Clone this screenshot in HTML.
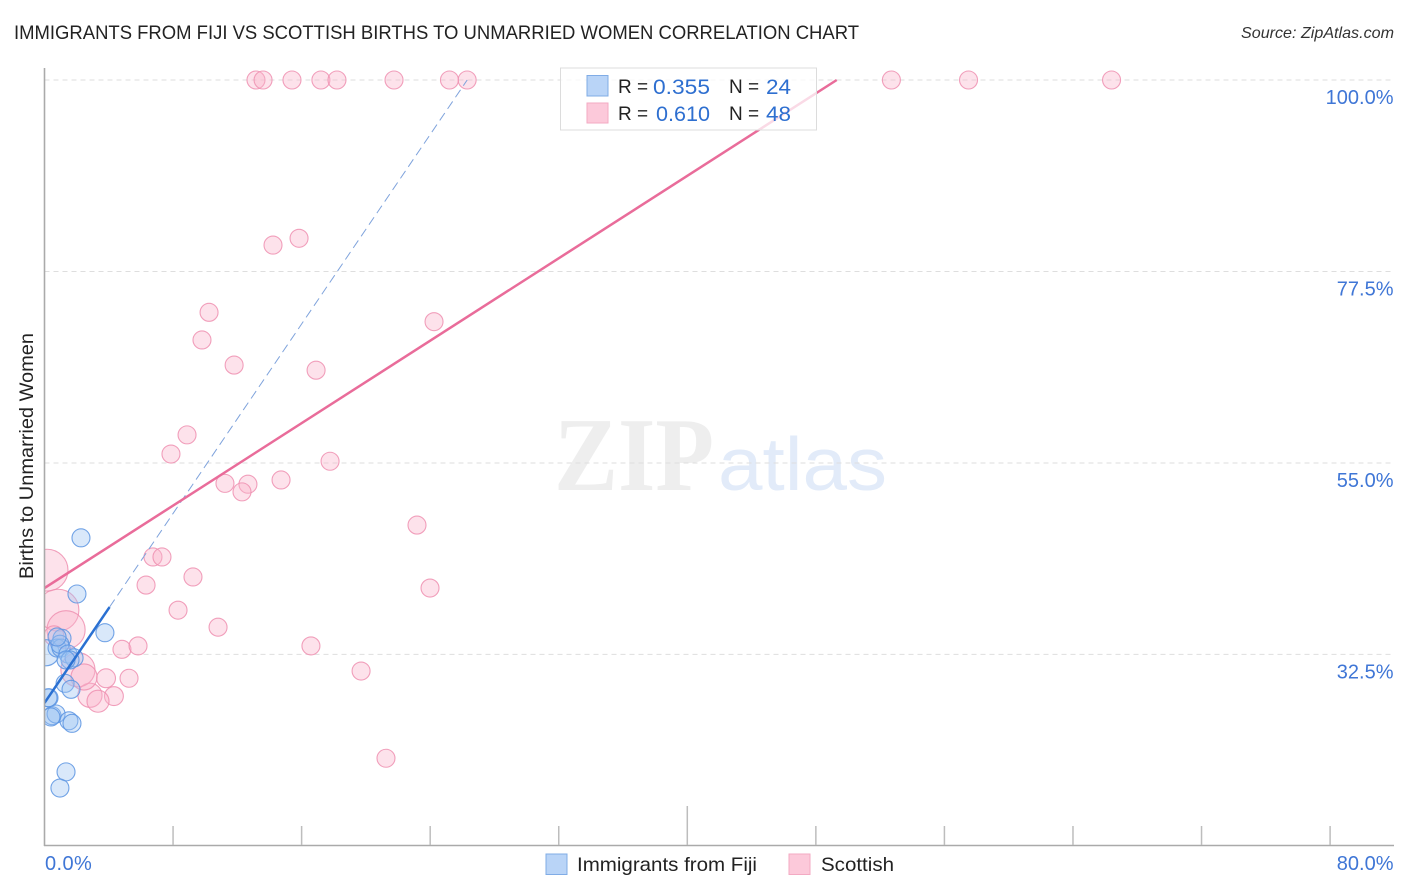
<!DOCTYPE html>
<html>
<head>
<meta charset="utf-8">
<title>Immigrants from Fiji vs Scottish Births to Unmarried Women Correlation Chart</title>
<style>
html,body{margin:0;padding:0;background:#fff;}
svg{display:block;}
text{font-family:"Liberation Sans",sans-serif;}
</style>
</head>
<body>
<svg id="chart" xmlns="http://www.w3.org/2000/svg" width="1406" height="892" viewBox="0 0 1406 892">
  <defs>
    <clipPath id="plot-clip"><rect x="44.5" y="60" width="1350" height="786"/></clipPath>
  </defs>
  <rect width="1406" height="892" fill="#fff"/>
  <text x="14" y="39" font-size="19" fill="#222" textLength="845" lengthAdjust="spacingAndGlyphs">IMMIGRANTS FROM FIJI VS SCOTTISH BIRTHS TO UNMARRIED WOMEN CORRELATION CHART</text>
  <text x="1241" y="38" font-size="16" font-style="italic" fill="#333" textLength="153" lengthAdjust="spacingAndGlyphs">Source: ZipAtlas.com</text>

  <g>
    <text x="554" y="490" style="font-family:'Liberation Serif',serif;font-weight:bold" font-size="105" fill="#eeeeee" textLength="160" lengthAdjust="spacingAndGlyphs">ZIP</text>
    <text x="718" y="490" font-size="75" fill="#e2ebf9" textLength="169" lengthAdjust="spacingAndGlyphs">atlas</text>
  </g>

  <g id="grid"></g>
  <g id="points" clip-path="url(#plot-clip)"></g>
  <g id="trends" clip-path="url(#plot-clip)"></g>
  <rect x="0" y="60" width="44" height="786" fill="#fff"/>
  <g id="axes"></g>

  <text transform="translate(33,456) rotate(-90)" font-size="19.5" fill="#222" text-anchor="middle" textLength="246" lengthAdjust="spacingAndGlyphs">Births to Unmarried Women</text>

  <g>
    <rect x="560.5" y="68" width="256" height="62" fill="#fff" fill-opacity="0.75" stroke="#dcdcdc" stroke-width="1"/>
    <rect x="587" y="75.5" width="21" height="20.5" fill="#b9d4f7" stroke="#80ace6" stroke-width="1"/>
    <rect x="587" y="103" width="21" height="20" fill="#fcc9da" stroke="#f3aac3" stroke-width="1"/>
    <text x="618" y="93" font-size="19" fill="#222">R =</text>
    <text x="653" y="94" font-size="21" fill="#2e6fd0" textLength="57" lengthAdjust="spacingAndGlyphs">0.355</text>
    <text x="729" y="93" font-size="19" fill="#222">N =</text>
    <text x="766" y="94" font-size="21" fill="#2e6fd0" textLength="25" lengthAdjust="spacingAndGlyphs">24</text>
    <text x="618" y="120" font-size="19" fill="#222">R =</text>
    <text x="656" y="121" font-size="21" fill="#2e6fd0" textLength="54" lengthAdjust="spacingAndGlyphs">0.610</text>
    <text x="729" y="120" font-size="19" fill="#222">N =</text>
    <text x="766" y="121" font-size="21" fill="#2e6fd0" textLength="25" lengthAdjust="spacingAndGlyphs">48</text>
  </g>

  <g>
    <rect x="546" y="854" width="21" height="20.5" fill="#b9d4f7" stroke="#80ace6" stroke-width="1"/>
    <text x="577" y="871" font-size="19.5" fill="#222" textLength="180" lengthAdjust="spacingAndGlyphs">Immigrants from Fiji</text>
    <rect x="789" y="854" width="21" height="20.5" fill="#fcc9da" stroke="#f3aac3" stroke-width="1"/>
    <text x="821" y="871" font-size="19.5" fill="#222" textLength="73" lengthAdjust="spacingAndGlyphs">Scottish</text>
  </g>
</svg>
<script>
const yTickValues = [100, 77.5, 55, 32.5];
const yTickLabels = ['100.0%', '77.5%', '55.0%', '32.5%'];
const xTickValues = [0, 8, 16, 24, 32, 40, 48, 56, 64, 72, 80];
const xEndLabels = ['0.0%', '80.0%'];

const fijiX = [2.27, 2.02, 3.76, 0.1, 1.09, 0.78, 1.03, 0.96, 0.78, 1.46, 1.84, 1.59, 1.34, 1.28, 1.65, 0.28, 0.22, 0.47, 0.72, 0.4, 1.52, 1.71, 1.34, 0.96];
const fijiY = [46.2, 39.6, 35.05, 32.7, 34.4, 33.25, 33.25, 33.7, 34.55, 32.55, 32.1, 31.85, 31.85, 29.1, 28.4, 27.4, 27.4, 25.3, 25.5, 25.15, 24.7, 24.4, 18.7, 16.8];
const fijiSize = [1, 1, 1, 2.1, 1, 1, 1, 1, 1, 1, 1, 1, 1, 1, 1, 1, 1, 1, 1, 1, 1, 1, 1, 1];

const scottishX = [13.16, 13.6, 15.4, 17.2, 18.2, 21.75, 25.2, 26.3, 52.7, 57.5, 66.4, 14.22, 15.84, 10.24, 9.8, 11.8, 16.9, 24.24, 7.87, 8.87, 11.23, 12.66, 12.29, 14.72, 17.77, 23.18, 23.99, 6.75, 7.31, 6.32, 9.24, 8.31, 10.8, 4.82, 5.82, 16.58, 19.7, 21.25, 3.83, 5.26, 4.32, 2.83, 3.33, 2.08, 2.46, 0.16, 0.84, 1.34, 0.59];
const scottishY = [100, 100, 100, 100, 100, 100, 100, 100, 100, 100, 100, 80.6, 81.4, 72.7, 69.45, 66.5, 65.9, 71.6, 56.05, 58.3, 52.6, 52.5, 51.6, 53.0, 55.2, 47.7, 40.3, 43.95, 43.95, 40.65, 41.6, 37.7, 35.7, 33.1, 33.5, 33.5, 30.55, 20.3, 29.7, 29.7, 27.6, 27.7, 27.0, 30.7, 29.85, 42.4, 37.7, 35.4, 34.7];
const scottishSize = [1, 1, 1, 1, 1, 1, 1, 1, 1, 1, 1, 1, 1, 1, 1, 1, 1, 1, 1, 1, 1, 1, 1, 1, 1, 1, 1, 1, 1, 1, 1, 1, 1, 1, 1, 1, 1, 1, 1.1, 1, 1.1, 1.8, 1.5, 3.6, 2.1, 5.4, 5.4, 4.5, 1.2];

const fijiTrend = [26.8, 2.783];
const fijiSolidEnd = 4.05;
const scottishTrend = [40.3, 1.211];

const SVGNS = 'http://www.w3.org/2000/svg';
function sx(v) { return 44.5 + v * 16.07; }
function sy(v) { return 80 + (100 - v) * 8.51; }
function sr(s) { return 9 * Math.sqrt(s); }
function mk(parent, tag, attrs) {
  const el = document.createElementNS(SVGNS, tag);
  for (const k in attrs) el.setAttribute(k, attrs[k]);
  parent.appendChild(el);
  return el;
}
const grid = document.getElementById('grid');
const axes = document.getElementById('axes');
const pts = document.getElementById('points');
const trends = document.getElementById('trends');

yTickValues.forEach(function (v, i) {
  const g = mk(grid, 'line', { x1: 44.5, x2: 1394, y1: sy(v), y2: sy(v), stroke: '#dedede', 'stroke-width': 1, 'stroke-dasharray': '5 4' });
  
  
  const t = mk(axes, 'text', { x: 1393.5, y: sy(v) + 24, 'font-size': 20, fill: '#3f76d6', 'text-anchor': 'end' });
  t.textContent = yTickLabels[i];
  
  
});

const yAxis = mk(axes, 'line', { x1: 44.5, x2: 44.5, y1: 68, y2: 846, stroke: '#aaa', 'stroke-width': 1.6 });


const xAxis = mk(axes, 'line', { x1: 44, x2: 1394, y1: 845.5, y2: 845.5, stroke: '#aaa', 'stroke-width': 1.6 });



xTickValues.slice(1).forEach(function (v, i) {
  const top = i === 4 ? 806 : 826;
  const tk = mk(axes, 'line', { x1: sx(v), x2: sx(v), y1: top, y2: 845, stroke: '#bdbdbd', 'stroke-width': 1.5 });
  
  
});

const x0Label = mk(axes, 'text', { x: 45, y: 870, 'font-size': 20, fill: '#3f76d6', 'letter-spacing': 0.4 });
x0Label.textContent = xEndLabels[0];


const x1Label = mk(axes, 'text', { x: 1393.5, y: 870, 'font-size': 20, fill: '#3f76d6', 'text-anchor': 'end' });
x1Label.textContent = xEndLabels[1];



scottishX.forEach(function (v, i) {
  const c = mk(pts, 'circle', { cx: sx(v), cy: sy(scottishY[i]), r: sr(scottishSize[i]), fill: '#f9b4cb', 'fill-opacity': 0.38, stroke: '#ee8fb0', 'stroke-opacity': 0.85, 'stroke-width': 1.1 });
  
  
});
fijiX.forEach(function (v, i) {
  const c = mk(pts, 'circle', { cx: sx(v), cy: sy(fijiY[i]), r: sr(fijiSize[i]), fill: '#9cc3f3', 'fill-opacity': 0.38, stroke: '#5a94e2', 'stroke-opacity': 0.85, 'stroke-width': 1.1 });
  
  
});

function trendY(tr, x) { return tr[0] + tr[1] * x; }
const fijiEnd = (100 - fijiTrend[0]) / fijiTrend[1];
const fijiDash = mk(trends, 'line', { x1: sx(fijiSolidEnd), y1: sy(trendY(fijiTrend, fijiSolidEnd)), x2: sx(fijiEnd), y2: sy(100), stroke: '#7fa3dc', 'stroke-width': 1, 'stroke-dasharray': '9 5' });


const fijiSolid = mk(trends, 'line', { x1: sx(0), y1: sy(trendY(fijiTrend, 0)), x2: sx(fijiSolidEnd), y2: sy(trendY(fijiTrend, fijiSolidEnd)), stroke: '#2a70d2', 'stroke-width': 2.5 });


const scottishEnd = (100 - scottishTrend[0]) / scottishTrend[1];
const scottishLine = mk(trends, 'line', { x1: sx(0), y1: sy(trendY(scottishTrend, 0)), x2: sx(scottishEnd), y2: sy(100), stroke: '#e96c9a', 'stroke-width': 2.5 });


</script>
</body>
</html>
